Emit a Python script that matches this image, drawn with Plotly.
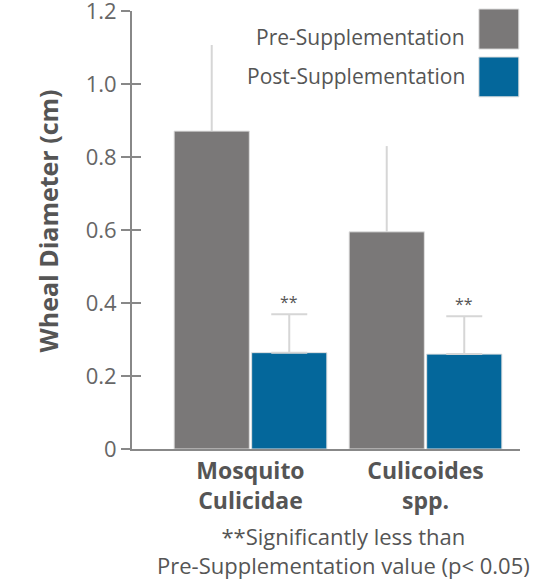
import plotly.graph_objects as go

categories = ["Mosquito<br>Culicidae", "Culicoides<br>spp."]
series_names = ["Pre-Supplementation", "Post-Supplementation"]
pre_values = [0.871, 0.595]
pre_errors = [0.236, 0.235]
post_values = [0.264, 0.260]
post_errors = [0.105, 0.104]
significance = ["**", "**"]
y_tickvals = [0, 0.2, 0.4, 0.6, 0.8, 1.0, 1.2]
y_ticktext = ["0", "0.2", "0.4", "0.6", "0.8", "1.0", "1.2"]
footnote = "**Significantly less than<br>Pre-Supplementation value (p< 0.05)"

GRAY = "#7a7878"
BLUE = "#04679b"
ERR = "#d6d6d6"
FONT = "Open Sans"

BARGAP = 0.114

fig = go.Figure()
fig.add_trace(go.Bar(
    x=categories, y=pre_values, name=series_names[0],
    marker=dict(color=GRAY, line=dict(color="#e0e0e0", width=1)),
    error_y=dict(type="data", array=pre_errors, symmetric=False, arrayminus=[0, 0],
                 color=ERR, thickness=2, width=0),
    showlegend=False,
))
fig.add_trace(go.Bar(
    x=categories, y=post_values, name=series_names[1],
    marker=dict(color=BLUE, line=dict(color="#e0e0e0", width=1)),
    error_y=dict(type="data", array=post_errors, symmetric=False, arrayminus=[0, 0],
                 color=ERR, thickness=2, width=18),
    showlegend=False,
))
# invisible trace to activate the overlay axis (for crossing ticks)
fig.add_trace(go.Scatter(x=categories, y=pre_values, mode="none", yaxis="y2",
                         hoverinfo="skip", showlegend=False))

offset = (1 - BARGAP) / 4
annotations = []
for i, (v, e, s) in enumerate(zip(post_values, post_errors, significance)):
    annotations.append(dict(x=i + offset, y=v + e, xref="x", yref="y", text=s,
                            showarrow=False, yanchor="bottom", yshift=-1,
                            font=dict(family=FONT, size=16, color="#555")))

# y-axis title
annotations.append(dict(x=-0.216, y=0.52, xref="paper", yref="paper",
                        text="<b>Wheal Diameter (cm)</b>", textangle=-90,
                        showarrow=False, xanchor="center", yanchor="middle",
                        font=dict(family=FONT, size=25, color="#555")))
# footnote
annotations.append(dict(x=0.546, y=-0.231, xref="paper", yref="paper",
                        text=footnote, showarrow=False, xanchor="center", yanchor="middle",
                        align="center", borderpad=0,
                        font=dict(family=FONT, size=22, color="#555")))

# manual legend (text left of large squares)
shapes = []
leg = [(series_names[0], GRAY, 1.0046, 0.913, 0.94),
       (series_names[1], BLUE, 0.895, 0.804, 0.852)]
for name, col, y1, y0, ty in leg:
    shapes.append(dict(type="rect", xref="paper", yref="paper", x0=0.894, x1=0.997,
                       y0=y0, y1=y1, fillcolor=col, line=dict(color="#e0e0e0", width=1)))
    annotations.append(dict(x=0.863, y=ty, xref="paper", yref="paper",
                            text=name, showarrow=False, xanchor="right", yanchor="middle",
                            font=dict(family=FONT, size=21, color="#555")))

fig.update_layout(
    width=560, height=579,
    margin=dict(l=132, r=40, t=11, b=130, autoexpand=False),
    paper_bgcolor="white", plot_bgcolor="white",
    barmode="group", bargap=BARGAP, bargroupgap=0.03,
    font=dict(family=FONT, color="#555"),
    xaxis=dict(range=[-0.677, 1.54], showgrid=False, zeroline=False,
               showline=True, linecolor="#888", linewidth=2, ticks="",
               tickfont=dict(family=FONT, size=23, color="#555"),
               tickprefix="<b>", ticksuffix="</b>"),
    yaxis=dict(range=[0, 1.2001], tickvals=y_tickvals, ticktext=y_ticktext,
               showgrid=False, zeroline=False, showline=True, linecolor="#888",
               linewidth=2, ticks="outside", ticklen=9, tickwidth=1.5, tickcolor="#888",
               ticklabeloverflow="allow",
               tickfont=dict(family=FONT, size=22, color="#666")),
    yaxis2=dict(range=[0, 1.2001], overlaying="y", tickvals=y_tickvals,
                showticklabels=False, showgrid=False, zeroline=False, showline=False,
                ticks="inside", ticklen=9, tickwidth=1.5, tickcolor="#888"),
    annotations=annotations, shapes=shapes,
)

fig.write_html("out.html", config={"displayModeBar": False},
               post_script="document.body.style.margin='0';document.body.style.padding='0';")
